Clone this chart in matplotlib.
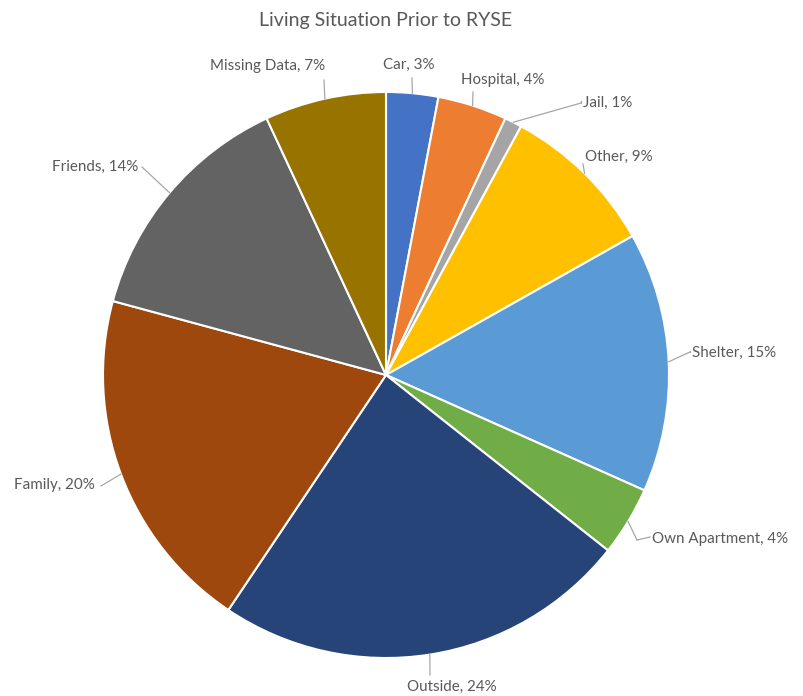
import numpy as np
import matplotlib.pyplot as plt

categories = ["Car", "Hospital", "Jail", "Other", "Shelter", "Own Apartment",
              "Outside", "Family", "Friends", "Missing Data"]
percent = [3, 4, 1, 9, 15, 4, 24, 20, 14, 7]
colors = ["#4472C4", "#ED7D31", "#A5A5A5", "#FFC000", "#5B9BD5", "#70AD47",
          "#264478", "#9E480E", "#636363", "#997300"]

W, H = 804, 696
# label placement in pixel coords (x, y from top): text anchor, alignment, leader elbow
LABEL_POS = {
    "Car":           ((409, 63), "center", (412, 78)),
    "Hospital":      ((503, 78), "center", (473, 92)),
    "Jail":          ((583, 101), "left", (581, 103)),
    "Other":         ((619, 155), "center", (583, 164)),
    "Shelter":       ((692, 351), "left", (690, 352)),
    "Own Apartment": ((652, 537), "left", (637, 540)),
    "Outside":       ((452, 685), "center", (430, 675)),
    "Family":        ((95, 483), "right", (101, 486)),
    "Friends":       ((138, 165), "right", (142, 167)),
    "Missing Data":  ((325, 64), "right", (324, 80)),
}
TEXT = "#595959"
LEADER = "#A6A6A6"

plt.rcParams["font.family"] = ["Lato", "DejaVu Sans"]

fig = plt.figure(figsize=(W / 100, H / 100), dpi=100)
ax = fig.add_axes([0, 0, 1, 1])

cx, cy, r = 386, H - 375, 283
wedges, _ = ax.pie(percent, colors=colors, startangle=90, counterclock=False,
                   center=(cx, cy), radius=r,
                   wedgeprops=dict(edgecolor="white", linewidth=1.5))

for w, name, p in zip(wedges, categories, percent):
    mid = np.deg2rad((w.theta1 + w.theta2) / 2)
    ex, ey = cx + r * np.cos(mid), cy + r * np.sin(mid)
    (tx, ty), ha, (lx, ly) = LABEL_POS[name]
    ax.plot([ex, lx], [ey, H - ly], color=LEADER, lw=0.9, zorder=3)
    if ha == "left":
        ax.plot([lx, tx - 2], [H - ly, H - ty], color=LEADER, lw=0.9)
    ax.text(tx, H - ty, f"{name}, {p}%", ha=ha, va="center_baseline",
            fontsize=10.9, color=TEXT)

ax.text(386, H - 19, "Living Situation Prior to RYSE", ha="center",
        va="center_baseline", fontsize=14, color=TEXT)

ax.set_xlim(0, W)
ax.set_ylim(0, H)
ax.set_aspect("equal")
ax.axis("off")
fig.savefig("out.png", dpi=100, facecolor="white")
